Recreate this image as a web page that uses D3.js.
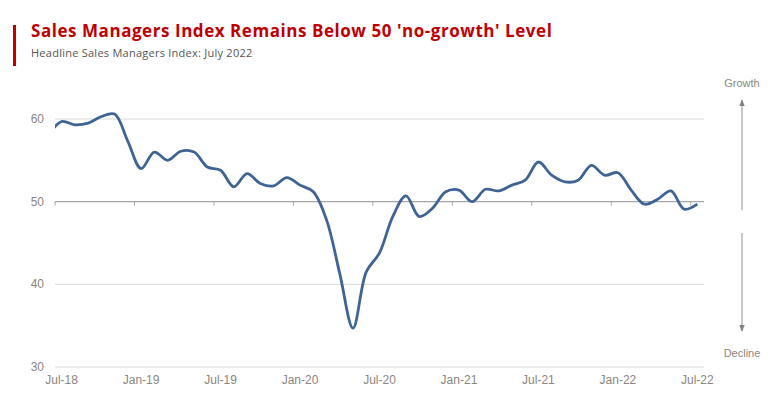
<!DOCTYPE html>
<html>
<head>
<meta charset="utf-8">
<script src="https://cdn.jsdelivr.net/npm/d3@7"></script>
<style>
  body { margin: 0; background: #fff; }
  svg { display: block; }
</style>
</head>
<body>
<div id="chart"></div>
<script>
// Headline SMI, monthly, Jun-18 .. Jul-22 (first point sits just left of the plot and is clipped)
const months = d3.range(-1, 49); // 0 = Jul-18
const smi = [
  58.0, 59.7, 59.3, 59.5, 60.3, 60.6, 57.3, 54.0, 56.0, 55.0,
  56.1, 56.0, 54.2, 53.8, 51.8, 53.4, 52.2, 51.9, 52.9, 52.0,
  51.2, 47.8, 41.3, 34.7, 41.5, 43.8, 48.2, 50.7, 48.2, 49.2,
  51.2, 51.4, 50.0, 51.5, 51.3, 52.0, 52.6, 54.8, 53.2, 52.4,
  52.6, 54.4, 53.2, 53.5, 51.4, 49.7, 50.3, 51.3, 49.1, 49.7
];
const tickMonths = [0, 6, 12, 18, 24, 30, 36, 42, 48];
const tickLabels = ["Jul-18", "Jan-19", "Jul-19", "Jan-20", "Jul-20", "Jan-21", "Jul-21", "Jan-22", "Jul-22"];
const yTicks = [30, 40, 50, 60];

const W = 768, H = 403;
const plot = { left: 55, right: 704, top: 100, bottom: 367 };

const svg = d3.select("#chart").append("svg")
    .attr("width", W)
    .attr("height", H);

// title block
svg.append("rect")
    .attr("x", 13).attr("y", 25)
    .attr("width", 3).attr("height", 41)
    .attr("fill", "#c00000");

svg.append("text")
    .attr("x", 31).attr("y", 37)
    .attr("font-family", "Open Sans, sans-serif")
    .attr("font-weight", 700)
    .attr("font-size", "17px")
    .attr("letter-spacing", "0.55px")
    .attr("fill", "#c00000")
    .text("Sales Managers Index Remains Below 50 'no-growth' Level");

svg.append("text")
    .attr("x", 31).attr("y", 57)
    .attr("font-family", "Open Sans, sans-serif")
    .attr("font-size", "11px")
    .attr("letter-spacing", "0.25px")
    .attr("fill", "#555")
    .text("Headline Sales Managers Index: July 2022");

const x = d3.scaleLinear()
    .domain([0, 49])
    .range([plot.left, plot.right]);

const y = d3.scaleLinear()
    .domain([30, 60])
    .range([367, 119]);

// gridlines
svg.append("g")
    .selectAll("line")
    .data(yTicks.filter(d => d !== 50))
    .enter().append("line")
    .attr("x1", plot.left).attr("x2", plot.right)
    .attr("y1", d => y(d)).attr("y2", d => y(d))
    .attr("stroke", "#d9d9d9")
    .attr("stroke-width", 1);

// y labels
svg.append("g")
    .selectAll("text")
    .data(yTicks)
    .enter().append("text")
    .attr("x", 44)
    .attr("y", d => y(d) + 4)
    .attr("text-anchor", "end")
    .attr("font-family", "Liberation Sans, Arial, sans-serif")
    .attr("font-size", "12px")
    .attr("fill", "#8a8580")
    .text(d => d);

// 50 line acts as x axis
const axis = svg.append("g");
axis.append("line")
    .attr("x1", plot.left).attr("x2", plot.right)
    .attr("y1", y(50)).attr("y2", y(50))
    .attr("stroke", "#a6a6a6")
    .attr("stroke-width", 1.2);

axis.selectAll(".tick")
    .data(tickMonths)
    .enter().append("line")
    .attr("class", "tick")
    .attr("x1", d => x(d)).attr("x2", d => x(d))
    .attr("y1", y(50)).attr("y2", y(50) + 4)
    .attr("stroke", "#a6a6a6");

// x labels along the bottom
svg.append("g")
    .selectAll("text")
    .data(tickMonths)
    .enter().append("text")
    .attr("x", d => x(d + 0.5))
    .attr("y", 384)
    .attr("text-anchor", "middle")
    .attr("font-family", "Liberation Sans, Arial, sans-serif")
    .attr("font-size", "12px")
    .attr("fill", "#8a8580")
    .text((d, i) => tickLabels[i]);

// the line
svg.append("clipPath")
    .attr("id", "plotClip")
    .append("rect")
    .attr("x", plot.left).attr("y", 0)
    .attr("width", plot.right - plot.left).attr("height", H);

const line = d3.line()
    .x((d, i) => x(months[i] + 0.5))
    .y(d => y(d))
    .curve(d3.curveCatmullRom.alpha(0.5));

svg.append("path")
    .datum(smi)
    .attr("clip-path", "url(#plotClip)")
    .attr("fill", "none")
    .attr("stroke", "#3d6494")
    .attr("stroke-width", 2.8)
    .attr("stroke-linejoin", "round")
    .attr("d", line);

// growth / decline arrows
const ax = 742;
const defs = svg.append("defs");
defs.append("marker")
    .attr("id", "head")
    .attr("viewBox", "0 0 10 10")
    .attr("refX", 9).attr("refY", 5)
    .attr("markerWidth", 7).attr("markerHeight", 7)
    .attr("orient", "auto")
    .append("path")
    .attr("d", "M0,1 L10,5 L0,9 Z")
    .attr("fill", "#808080");

svg.append("line")
    .attr("x1", ax).attr("x2", ax)
    .attr("y1", 210).attr("y2", 100)
    .attr("stroke", "#909090").attr("stroke-width", 1)
    .attr("marker-end", "url(#head)");

svg.append("line")
    .attr("x1", ax).attr("x2", ax)
    .attr("y1", 233).attr("y2", 331)
    .attr("stroke", "#909090").attr("stroke-width", 1)
    .attr("marker-end", "url(#head)");

svg.append("text")
    .attr("x", ax).attr("y", 87)
    .attr("text-anchor", "middle")
    .attr("font-family", "Liberation Sans, Arial, sans-serif")
    .attr("font-size", "11px")
    .attr("fill", "#8a8580")
    .text("Growth");

svg.append("text")
    .attr("x", ax).attr("y", 357)
    .attr("text-anchor", "middle")
    .attr("font-family", "Liberation Sans, Arial, sans-serif")
    .attr("font-size", "11px")
    .attr("fill", "#8a8580")
    .text("Decline");
</script>
</body>
</html>
